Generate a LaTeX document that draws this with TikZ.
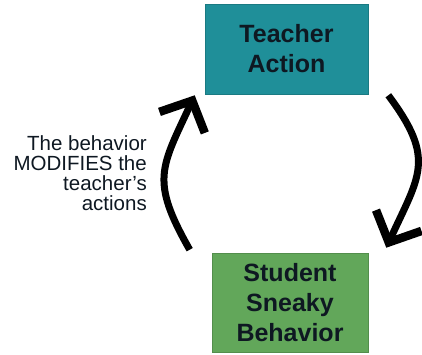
\documentclass[tikz,border=0pt]{standalone}
\usepackage{fontspec}
\setmainfont{Liberation Sans}
\usetikzlibrary{arrows.meta}
\definecolor{tealbox}{RGB}{31,143,153}
\definecolor{greenbox}{RGB}{98,167,90}
\definecolor{boxtext}{RGB}{14,24,34}
\tikzset{
  box/.style={draw=#1!85!black, line width=0.6pt, fill=#1, text=boxtext, align=center,
    font=\fontsize{25}{30}\selectfont\bfseries, inner sep=0pt},
  arr/.style={line width=7pt, -{Straight Barb[length=24pt,width=50pt,line width=8.5pt]}},
  note/.style={align=right, font=\fontsize{20.5}{20}\selectfont, text=boxtext, inner sep=0pt, anchor=east}
}
\begin{document}
\begin{tikzpicture}[x=1pt,y=-1pt]
\useasboundingbox (0,0) rectangle (422,355);
\clip (0,0) rectangle (422,355);
\node[box=tealbox, minimum width=163pt, minimum height=90pt] (ta) at (286.5,49) {Teacher\\Action};
\node[box=greenbox, minimum width=156pt, minimum height=99pt] (sb) at (290,302.5) {Student\\Sneaky\\Behavior};
\node[note] (txt) at (147,173) {The behavior\\MODIFIES the\\teacher’s\\actions};
\draw[arr] ([shift={(-22,-3)}]sb.north west) .. controls (150,180) and (161,168) .. ([shift={(-10,1)}]ta.south west);
\draw[arr] ([shift={(20,1)}]ta.south east) .. controls (436,159) and (419.6,175) .. ([shift={(18,-5)}]sb.north east);
\end{tikzpicture}
\end{document}
